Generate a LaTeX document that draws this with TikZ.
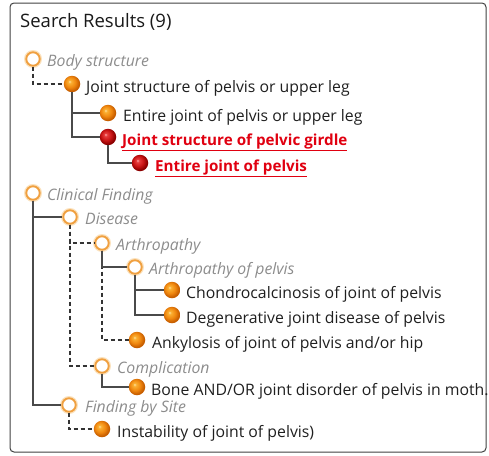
\documentclass[tikz,border=0pt]{standalone}
\usepackage{fontspec}
\setmainfont{Open Sans}
\usetikzlibrary{shadings}
\definecolor{lnc}{HTML}{4A4A4A}
\definecolor{ring}{HTML}{F0A040}
\definecolor{glow}{HTML}{FBE3C0}
\definecolor{gtxt}{HTML}{8C8C8C}
\definecolor{rtxt}{HTML}{E00010}
\definecolor{frm}{HTML}{404040}
\pgfdeclareradialshading{oball}{\pgfpoint{-8bp}{8bp}}{color(0bp)=(rgb,255:red,255;green,225;blue,160); color(5bp)=(rgb,255:red,250;green,175;blue,50); color(16bp)=(rgb,255:red,240;green,135;blue,15); color(25bp)=(rgb,255:red,200;green,95;blue,0); color(50bp)=(rgb,255:red,200;green,95;blue,0)}
\pgfdeclareradialshading{rball}{\pgfpoint{-8bp}{8bp}}{color(0bp)=(rgb,255:red,255;green,170;blue,170); color(5bp)=(rgb,255:red,230;green,60;blue,60); color(16bp)=(rgb,255:red,200;green,20;blue,20); color(25bp)=(rgb,255:red,140;green,0;blue,0); color(50bp)=(rgb,255:red,140;green,0;blue,0)}
\tikzset{
  x=1pt, y=-1pt,
  ball/.style={circle, minimum size=16.5pt, inner sep=0pt, shading=oball},
  redball/.style={circle, minimum size=16.5pt, inner sep=0pt, shading=rball},
  hollow/.style={circle, minimum size=13.5pt, inner sep=0pt, fill=white, draw=ring, line width=1.9pt,
    preaction={draw=glow, line width=4.5pt}},
  lbl/.style={anchor=base west, inner sep=0pt, font=\fontsize{15.8}{18}\selectfont, text=black!88},
  glbl/.style={lbl, font=\fontsize{15.8}{18}\selectfont\itshape, text=gtxt},
  rlbl/.style={lbl, font=\fontsize{15.2}{18}\selectfont\bfseries, text=rtxt},
  solidln/.style={draw=lnc, line width=1.2pt},
  dashln/.style={draw=black!80, line width=1.05pt, dash pattern=on 4.5pt off 2.5pt},
}
\begin{document}
\begin{tikzpicture}
\useasboundingbox (0,0) rectangle (489,455);
\draw[frm, line width=1pt, rounded corners=4pt] (10,3) rectangle (486,452);
\node[anchor=base west, inner sep=0pt, font=\fontsize{18.5}{22}\selectfont, text=black!90] (title) at (20,27) {Search Results (9)};

% markers
\node[hollow]  (bs) at (33,59) {};
\node[ball]    (js) at (72,84) {};
\node[ball]    (ej) at (108,113) {};
\node[redball] (jg) at (108,137) {};
\node[redball] (ep) at (140,163) {};
\node[hollow]  (cf) at (33,193) {};
\node[hollow]  (di) at (70,217) {};
\node[hollow]  (ar) at (102,243) {};
\node[hollow]  (ap) at (135,267) {};
\node[ball]    (ch) at (172,290) {};
\node[ball]    (dg) at (172,315) {};
\node[ball]    (ak) at (137,340) {};
\node[hollow]  (co) at (102,366) {};
\node[ball]    (bo) at (137,387) {};
\node[hollow]  (fs) at (69,405) {};
\node[ball]    (in) at (102,429) {};

% connectors
\draw[dashln]  (bs.south) |- (js.west);
\draw[solidln] (js.south) |- (ej.west);
\draw[solidln] (js.south) |- (jg.west);
\draw[solidln] (jg.south) |- (ep.west);
\draw[solidln] (cf.south) |- (di.west);
\draw[solidln] (cf.south) |- (fs.west);
\draw[dashln]  (di.south) |- (ar.west);
\draw[dashln]  (di.south) |- (co.west);
\draw[dashln]  (ar.south) |- (ak.west);
\draw[solidln] (ar.south) |- (ap.west);
\draw[solidln] (ap.south) |- (ch.west);
\draw[solidln] (ap.south) |- (dg.west);
\draw[solidln] (co.south) |- (bo.west);
\draw[dashln]  (fs.south) |- (in.west);

% labels
\node[glbl] (tbs) at (47,66) {Body structure};
\node[lbl]  (tjs) at (86,92.5) {Joint structure of pelvis or upper leg};
\node[lbl]  (tej) at (123,121.5) {Entire joint of pelvis or upper leg};
\node[rlbl] (tjg) at (122,145) {\underline{Joint structure of pelvic girdle}};
\node[rlbl] (tep) at (155,171) {\underline{Entire joint of pelvis}};
\node[glbl] (tcf) at (47,200) {Clinical Finding};
\node[glbl] (tdi) at (85,224) {Disease};
\node[glbl] (tar) at (116,250) {Arthropathy};
\node[glbl] (tap) at (149,274) {Arthropathy of pelvis};
\node[lbl]  (tch) at (186,298.5) {Chondrocalcinosis of joint of pelvis};
\node[lbl]  (tdg) at (186,323.5) {Degenerative joint disease of pelvis};
\node[lbl]  (tak) at (152,348.5) {Ankylosis of joint of pelvis and/or hip};
\node[glbl] (tco) at (117,373) {Complication};
\node[lbl]  (tbo) at (151,395.5) {Bone AND/OR joint disorder of pelvis in moth.};
\node[glbl] (tfs) at (85,412) {Finding by Site};
\node[lbl]  (tin) at (117,437.5) {Instability of joint of pelvis)};
\end{tikzpicture}
\end{document}
